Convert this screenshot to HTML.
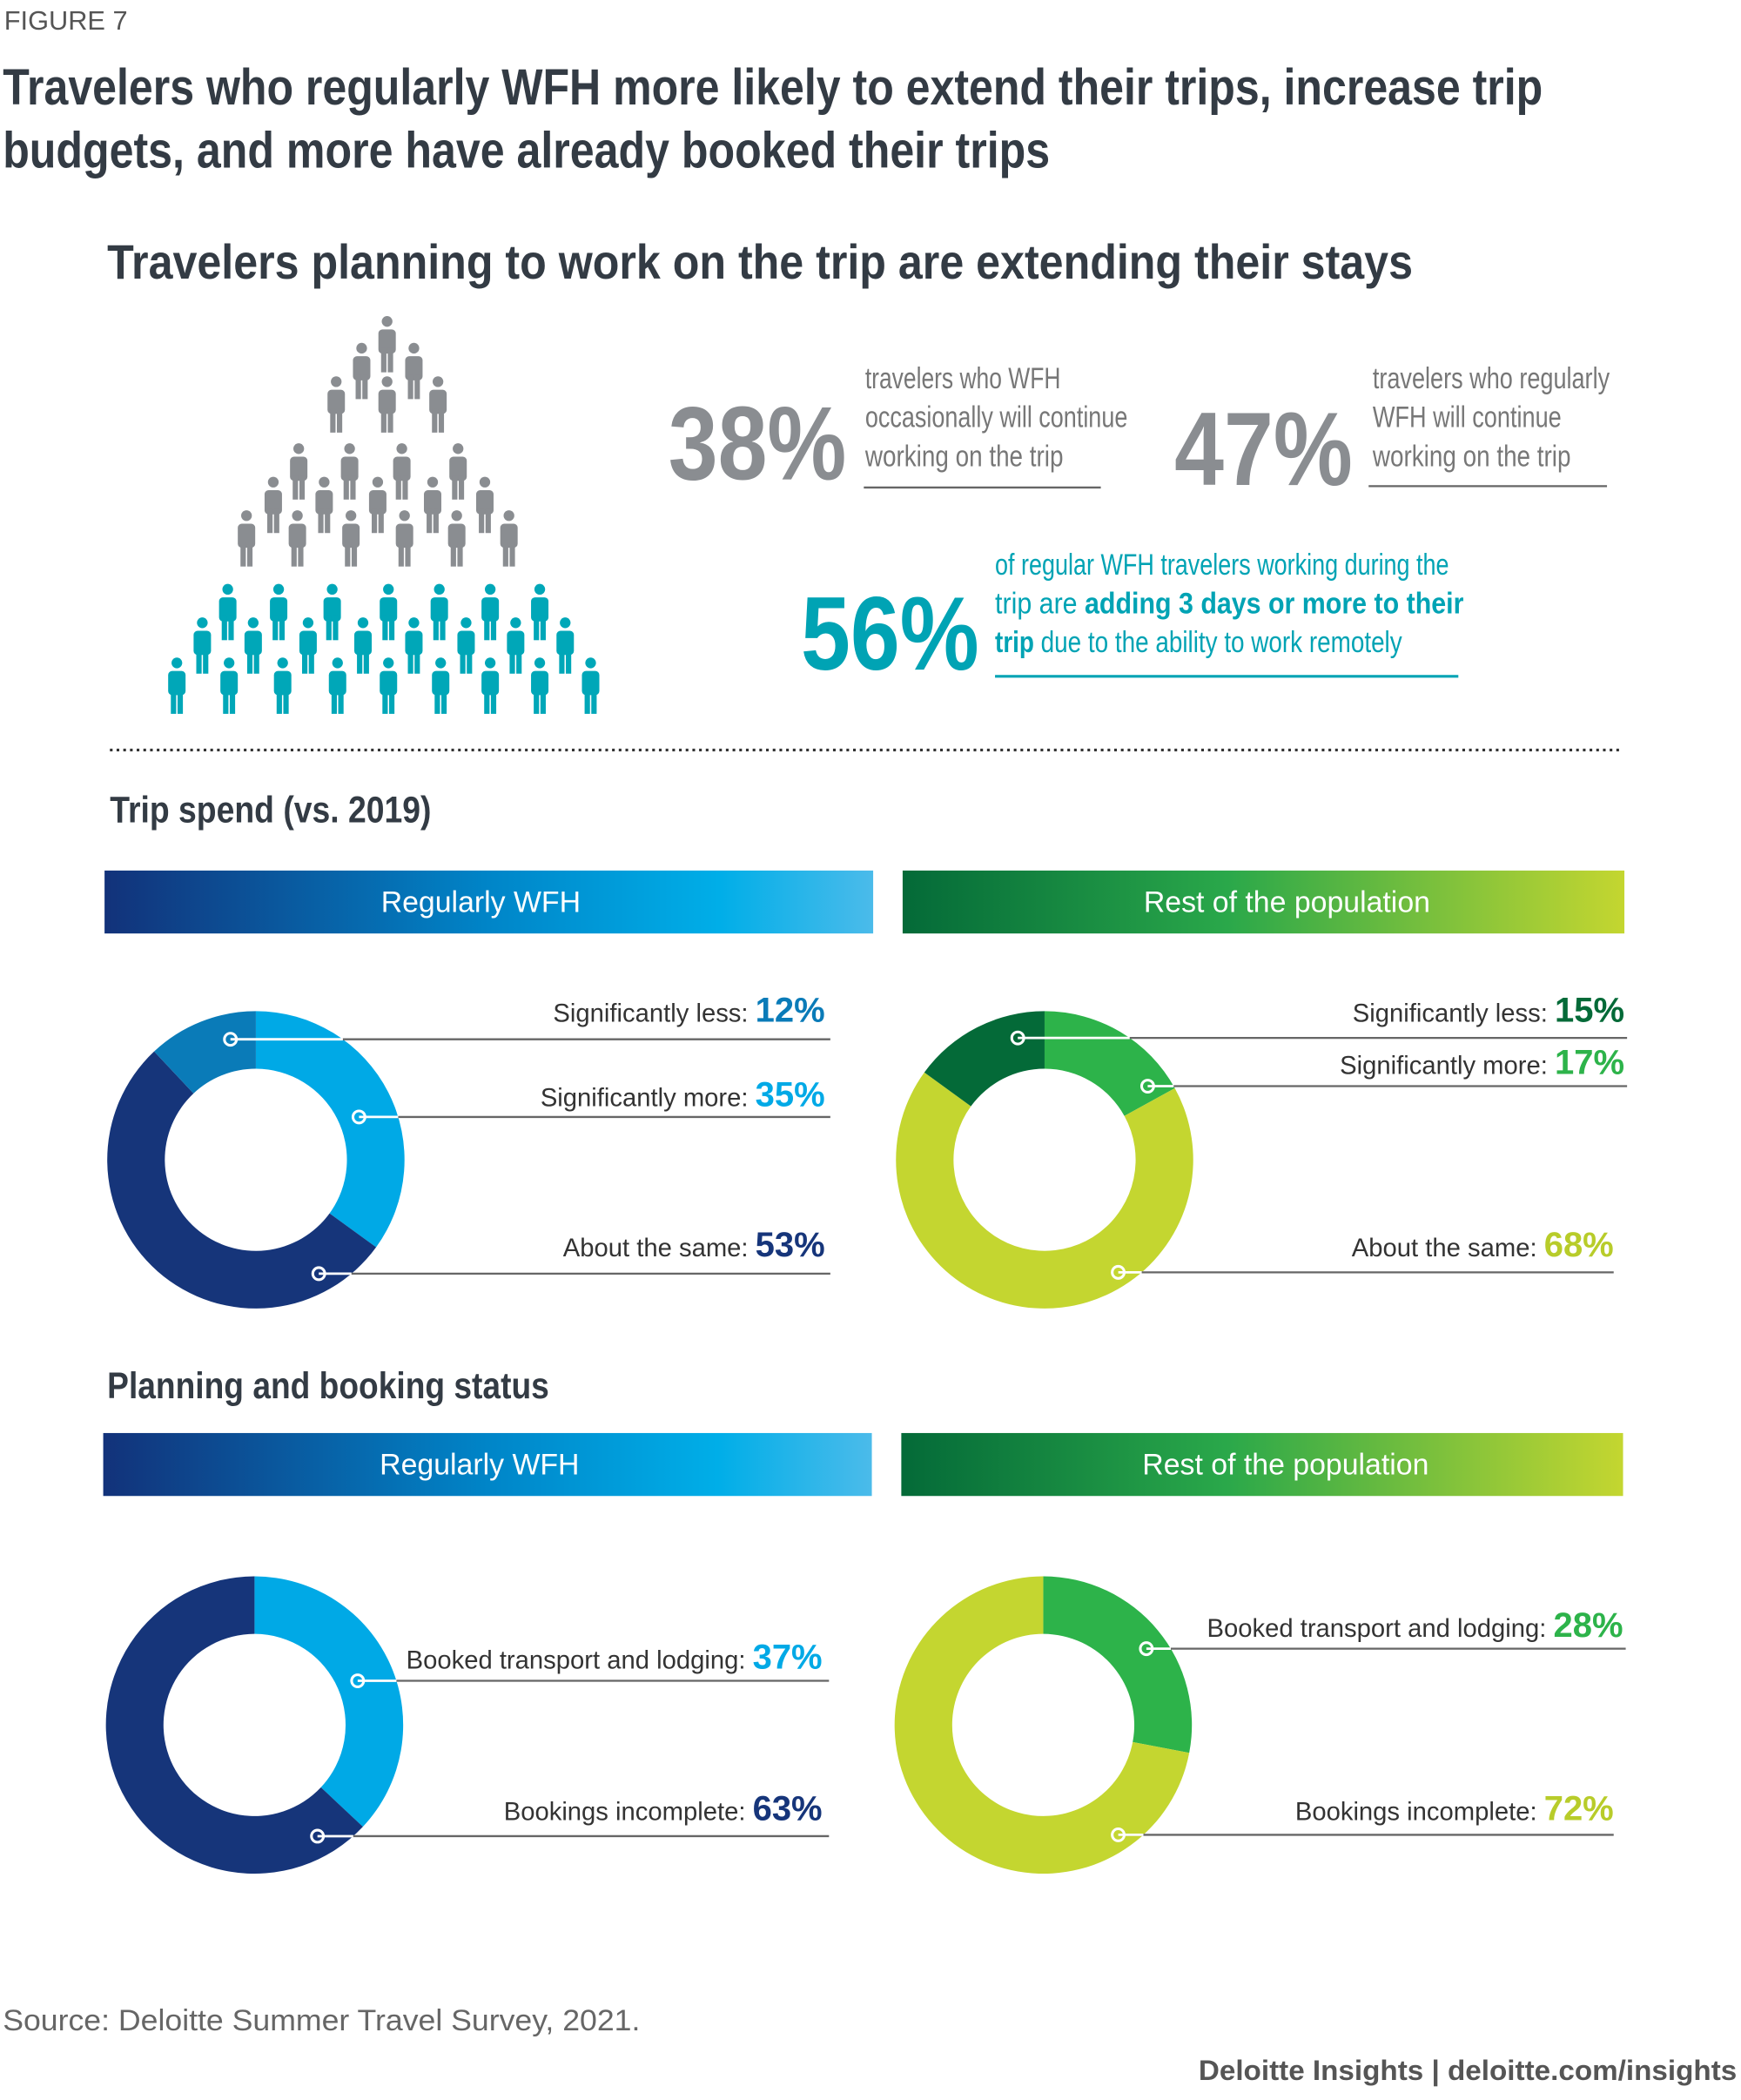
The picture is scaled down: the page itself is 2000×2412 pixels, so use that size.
<!DOCTYPE html>
<html><head><meta charset="utf-8"><style>
html,body{margin:0;padding:0;background:#fff;}
svg{display:block;}
text{font-family:"Liberation Sans",sans-serif;}
</style></head><body>
<svg id="root" width="2000" height="2412" viewBox="0 0 1300 1568" xmlns="http://www.w3.org/2000/svg">
<defs>
<linearGradient id="gBlue" x1="0" x2="1" y1="0" y2="0"><stop offset="0" stop-color="#12327a"/><stop offset="0.5" stop-color="#0085c8"/><stop offset="0.8" stop-color="#00aee8"/><stop offset="1" stop-color="#4bbbea"/></linearGradient>
<linearGradient id="gGreen" x1="0" x2="1" y1="0" y2="0"><stop offset="0" stop-color="#046a38"/><stop offset="0.45" stop-color="#2aa84a"/><stop offset="1" stop-color="#c4d630"/></linearGradient>
</defs>
<text x="3" y="22" font-size="20" fill="#555">FIGURE 7</text>
<text x="2" y="78" font-size="38" font-weight="bold" fill="#333b44" textLength="1150" lengthAdjust="spacingAndGlyphs">Travelers who regularly WFH more likely to extend their trips, increase trip</text>
<text x="2" y="125" font-size="38" font-weight="bold" fill="#333b44" textLength="782" lengthAdjust="spacingAndGlyphs">budgets, and more have already booked their trips</text>
<text x="80" y="208" font-size="36" font-weight="bold" fill="#333b44" textLength="975" lengthAdjust="spacingAndGlyphs">Travelers planning to work on the trip are extending their stays</text>
<g id="people"></g>

<text x="499" y="358" font-size="78" font-weight="bold" fill="#8a8d91" textLength="133" lengthAdjust="spacingAndGlyphs">38%</text>
<g font-size="22" fill="#777">
<text x="646" y="290" textLength="146" lengthAdjust="spacingAndGlyphs">travelers who WFH</text>
<text x="646" y="319" textLength="196" lengthAdjust="spacingAndGlyphs">occasionally will continue</text>
<text x="646" y="348" textLength="148" lengthAdjust="spacingAndGlyphs">working on the trip</text>
</g>
<line x1="645" x2="822" y1="364" y2="364" stroke="#666" stroke-width="1.5"/>
<text x="877" y="362" font-size="78" font-weight="bold" fill="#8a8d91" textLength="133" lengthAdjust="spacingAndGlyphs">47%</text>
<g font-size="22" fill="#777">
<text x="1025" y="290" textLength="177" lengthAdjust="spacingAndGlyphs">travelers who regularly</text>
<text x="1025" y="319" textLength="141" lengthAdjust="spacingAndGlyphs">WFH will continue</text>
<text x="1025" y="348" textLength="148" lengthAdjust="spacingAndGlyphs">working on the trip</text>
</g>
<line x1="1022" x2="1200" y1="363" y2="363" stroke="#666" stroke-width="1.5"/>
<text x="598" y="500" font-size="78" font-weight="bold" fill="#00a3b4" textLength="133" lengthAdjust="spacingAndGlyphs">56%</text>
<g font-size="22" fill="#00a3b4">
<text x="743" y="429" textLength="339" lengthAdjust="spacingAndGlyphs">of regular WFH travelers working during the</text>
<text x="743" y="458" textLength="350" lengthAdjust="spacingAndGlyphs">trip are <tspan font-weight="bold">adding 3 days or more to their</tspan></text>
<text x="743" y="487" textLength="304" lengthAdjust="spacingAndGlyphs"><tspan font-weight="bold">trip</tspan> due to the ability to work remotely</text>
</g>
<line x1="743" x2="1089" y1="505" y2="505" stroke="#00a3b4" stroke-width="2"/>
<line x1="82" x2="1210" y1="560" y2="560" stroke="#333" stroke-width="2" stroke-dasharray="2,3"/>

<text x="82" y="614" font-size="28" font-weight="bold" fill="#333b44" textLength="240" lengthAdjust="spacingAndGlyphs">Trip spend (vs. 2019)</text>
<rect x="78" y="650" width="574" height="47" fill="url(#gBlue)"/>
<text x="359" y="681" font-size="22" fill="#fff" text-anchor="middle">Regularly WFH</text>
<rect x="674" y="650" width="539" height="47" fill="url(#gGreen)"/>
<text x="961" y="681" font-size="22" fill="#fff" text-anchor="middle">Rest of the population</text>

<text x="80" y="1044" font-size="28" font-weight="bold" fill="#333b44" textLength="330" lengthAdjust="spacingAndGlyphs">Planning and booking status</text>
<rect x="77" y="1070" width="574" height="47" fill="url(#gBlue)"/>
<text x="358" y="1101" font-size="22" fill="#fff" text-anchor="middle">Regularly WFH</text>
<rect x="673" y="1070" width="539" height="47" fill="url(#gGreen)"/>
<text x="960" y="1101" font-size="22" fill="#fff" text-anchor="middle">Rest of the population</text>

<g id="donuts"></g>

<text x="2" y="1516" font-size="22" fill="#666" textLength="476" lengthAdjust="spacingAndGlyphs">Source: Deloitte Summer Travel Survey, 2021.</text>
<text x="895" y="1553" font-size="21" font-weight="bold" fill="#555" textLength="402" lengthAdjust="spacingAndGlyphs">Deloitte Insights | deloitte.com/insights</text>
</svg>
<script>
// Donut chart data
const spendLabels = ["Significantly more", "About the same", "Significantly less"];
const spendWfh = [35, 53, 12];
const spendRest = [17, 68, 15];
const bookLabels = ["Booked transport and lodging", "Bookings incomplete"];
const bookWfh = [37, 63];
const bookRest = [28, 72];

const NS = "http://www.w3.org/2000/svg";
function mk(tag, attrs, parent){const e=document.createElementNS(NS,tag);for(const k in attrs)e.setAttribute(k,attrs[k]);parent.appendChild(e);return e;}

// People pyramid
const ppl = document.getElementById('people');
const grayRows = [[245,[289]],[265,[270,309]],[290,[251,289,327]],[340,[223,261,300,342]],[365,[204,242,282,323,362]],[390,[184,222,262,302,341,380]]];
const tealRows = [[445,[170,208,248,290,328,366,403]],[470,[151,189,230,271,309,348,385,422]],[500,[132,171,211,252,290,329,366,403,441]]];
function person(cx, top, color){
  const g = mk('g',{fill:color},ppl);
  
  
  mk('circle',{cx:cx,cy:top+4,r:4},g);
  mk('rect',{x:cx-6.5,y:top+10,width:13,height:18,rx:3},g);
  mk('rect',{x:cx-4.5,y:top+24,width:4,height:18},g);
  mk('rect',{x:cx+0.5,y:top+24,width:4,height:18},g);
}
grayRows.forEach(r=>r[1].forEach(x=>person(x,r[0]-9,'#8a8d91')));
tealRows.forEach(r=>r[1].forEach(x=>person(x,r[0]-9,'#00a7b8')));

const dg = document.getElementById('donuts');
function pt(cx,cy,r,a){return [cx+r*Math.sin(a), cy-r*Math.cos(a)];}
function donut(name, cx, cy, values, colors, labels, pctColors, callouts, rOut, rIn){
  const g = mk('g',{},dg);
  
  
  const total = values.reduce((a,b)=>a+b,0);
  let a0 = 0;
  values.forEach((v,i)=>{
    const a1 = a0 + v/total*2*Math.PI;
    const [x0,y0]=pt(cx,cy,rOut,a0),[x1,y1]=pt(cx,cy,rOut,a1),[x2,y2]=pt(cx,cy,rIn,a1),[x3,y3]=pt(cx,cy,rIn,a0);
    const lg = (a1-a0)>Math.PI?1:0;
    const p = mk('path',{d:`M${x0},${y0} A${rOut},${rOut} 0 ${lg} 1 ${x1},${y1} L${x2},${y2} A${rIn},${rIn} 0 ${lg} 0 ${x3},${y3}Z`,fill:colors[i]},g);
    
    
    a0 = a1;
  });
  callouts.forEach((c,i)=>{
    const [mx,ly,ty,rx,lx2] = c;
    const ln = mk('line',{x1:mx,x2:lx2,y1:ly,y2:ly,stroke:'#666','stroke-width':1.5},g);
    
    
    const ringEdge = cx + Math.sqrt(Math.max(0,rOut*rOut-(ly-cy)*(ly-cy)));
    mk('line',{x1:mx,x2:ringEdge,y1:ly,y2:ly,stroke:'#fff','stroke-width':1.8},g);
    const mc = mk('circle',{cx:mx,cy:ly,r:4.5,fill:'none',stroke:'#fff','stroke-width':2},g);
    
    
    const t = mk('text',{x:rx,y:ty,'text-anchor':'end','font-size':19,fill:'#333'},g);
    
    
    t.appendChild(document.createTextNode(labels[i]+': '));
    const s = mk('tspan',{'font-size':26,'font-weight':'bold',fill:pctColors[i]},t);
    s.textContent = values[i]+'%';
  });
}
donut('donut-spend-wfh',191,866,spendWfh,['#00a9e6','#16357a','#0a7bb8'],spendLabels,['#00a9e6','#16357a','#0a7bb8'],
  [[268,834,826,616,620],[238,951,938,616,620],[172,776,763,616,620]],111,68);
donut('donut-spend-rest',780,866,spendRest,['#2db34a','#c4d630','#046a38'],spendLabels,['#2db34a','#b8cc2a','#046a38'],
  [[857,811,802,1213,1215],[835,950,938,1205,1205],[760,775,763,1213,1215]],111,68);
donut('donut-book-wfh',190,1288,bookWfh,['#00a9e6','#16357a'],bookLabels,['#00a9e6','#16357a'],
  [[267,1255,1246,614,619],[237,1371,1359,614,619]],111,68);
donut('donut-book-rest',779,1288,bookRest,['#2db34a','#c4d630'],bookLabels,['#2db34a','#b8cc2a'],
  [[856,1231,1222,1212,1214],[835,1370,1359,1205,1205]],111,68);
</script>
</body></html>
